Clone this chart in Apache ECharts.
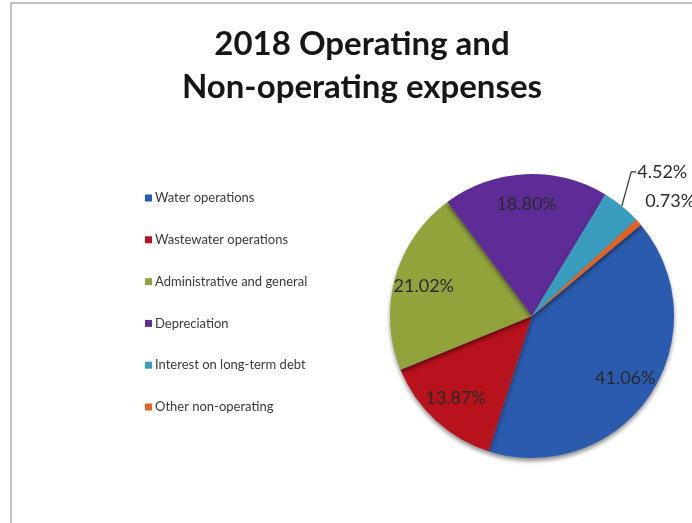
<!DOCTYPE html>
<html>
<head>
<meta charset="utf-8">
<script src="https://cdn.jsdelivr.net/npm/echarts@6/dist/echarts.min.js"></script>
<style>
  html, body { margin: 0; padding: 0; background: #fff; }
  #chart { width: 692px; height: 523px; }
</style>
</head>
<body>
<div id="chart"></div>
<script>
// Expense categories and their shares of the 2018 total (percent)
const categories = [
  'Water operations',
  'Wastewater operations',
  'Administrative and general',
  'Depreciation',
  'Interest on long-term debt',
  'Other non-operating'
];
const shares = [41.06, 13.87, 21.02, 18.80, 4.52, 0.73];
const colors = ['#2B5BAE', '#B8121C', '#91A33B', '#5E2C96', '#3A9DC0', '#E4621E'];

// Small slices get their label outside the pie
const outsideLabel = [false, false, false, false, true, true];

const center = [532, 316];
const radius = 142;
const startAngle = 40;

const mainData = categories.map((name, i) => ({
  name,
  value: shares[i],
  itemStyle: { color: colors[i] },
  label: outsideLabel[i] ? {
    show: true,
    position: 'outside',
    formatter: v => v.value.toFixed(2) + '%'
  } : { show: false },
  labelLine: i === 4
    ? { show: true, length: 26, length2: 4 }
    : { show: false, length: 2, length2: 0 }
}));

// Transparent ring that carries the inner labels further out from the centre
const labelData = categories.map((name, i) => ({
  name,
  value: shares[i],
  itemStyle: { color: 'rgba(0,0,0,0)' },
  label: { show: !outsideLabel[i] }
}));

// Nudges for the two outside labels
const labelShift = { 4: { dx: -10, dy: -14 }, 5: { dx: 0, dy: -20 } };

function placeOutsideLabel(params) {
  const s = labelShift[params.dataIndex];
  if (!s) return {};
  const out = { dx: s.dx, dy: s.dy };
  if (params.dataIndex === 4 && params.labelLinePoints) {
    // leader: steep rise from the slice edge, then a short horizontal tick
    const r = params.labelRect;
    const ex = r.x + s.dx - 1;
    const ey = r.y + s.dy + r.height / 2;
    out.labelLinePoints = [params.labelLinePoints[0], [ex - 5, ey], [ex, ey]];
  }
  return out;
}

const chart = echarts.init(document.getElementById('chart'), null, { renderer: 'canvas' });

chart.setOption({
  backgroundColor: '#ffffff',
  animation: false,
  title: {
    text: '2018 Operating and\nNon-operating expenses',
    left: 357,
    textAlign: 'center',
    top: 18,
    textStyle: {
      fontFamily: 'Lato',
      fontWeight: 'bold',
      fontSize: 33,
      lineHeight: 43,
      color: '#161616'
    }
  },
  graphic: [{
    type: 'rect',
    shape: { x: 11, y: 3, width: 720, height: 560 },
    style: { fill: 'none', stroke: '#b0b0b0', lineWidth: 1.5 },
    silent: true
  }],
  legend: {
    orient: 'vertical',
    left: 140,
    top: 186,
    icon: 'rect',
    itemWidth: 7,
    itemHeight: 7,
    itemGap: 27.8,
    data: categories.map((name, i) => ({ name, itemStyle: { color: colors[i] } })),
    textStyle: {
      fontFamily: 'Lato',
      fontSize: 13,
      lineHeight: 14,
      color: '#3a3a3a',
      padding: [0, 0, 0, -2]
    }
  },
  series: [
    {
      type: 'pie',
      center: center,
      radius: [0, radius],
      startAngle: startAngle,
      clockwise: true,
      avoidLabelOverlap: false,
      data: mainData,
      itemStyle: {
        borderWidth: 0,
        shadowBlur: 4,
        shadowOffsetY: 3,
        shadowColor: 'rgba(0,0,0,0.45)'
      },
      label: {
        fontFamily: 'Lato',
        fontSize: 18,
        color: '#2a2a2a'
      },
      labelLine: {
        lineStyle: { color: '#333', width: 1.2 }
      },
      labelLayout: placeOutsideLabel,
      emphasis: { disabled: true }
    },
    {
      type: 'pie',
      center: center,
      radius: [radius * 0.54, radius],
      startAngle: startAngle,
      clockwise: true,
      silent: true,
      data: labelData,
      label: {
        position: 'inside',
        fontFamily: 'Lato',
        fontSize: 18,
        color: '#2a2a2a',
        formatter: v => v.value.toFixed(2) + '%'
      },
      labelLine: { show: false },
      emphasis: { disabled: true }
    }
  ]
});
</script>
</body>
</html>
